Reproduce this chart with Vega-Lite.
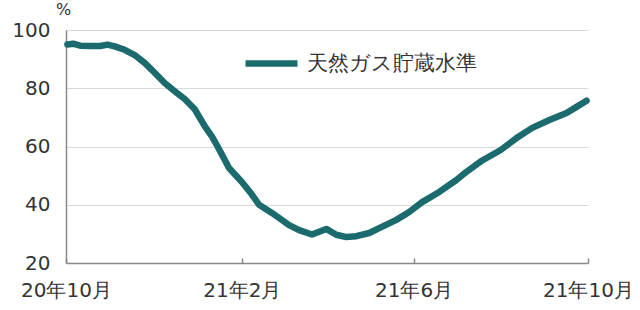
{
  "$schema": "https://vega.github.io/schema/vega-lite/v6.json",
  "width": 522,
  "height": 233,
  "autosize": {"type": "none"},
  "padding": {"left": 66, "top": 30, "right": 52, "bottom": 47},
  "background": "white",
  "config": {"view": {"stroke": null}, "font": "DejaVu Sans"},
  "data": {"values": [
    {"date": "2020-10-02", "value": 95.0},
    {"date": "2020-10-06", "value": 95.3},
    {"date": "2020-10-11", "value": 94.6},
    {"date": "2020-10-18", "value": 94.5},
    {"date": "2020-10-25", "value": 94.5},
    {"date": "2020-10-30", "value": 95.0},
    {"date": "2020-11-04", "value": 94.4},
    {"date": "2020-11-11", "value": 93.2},
    {"date": "2020-11-18", "value": 91.4},
    {"date": "2020-11-25", "value": 88.7},
    {"date": "2020-12-02", "value": 85.3},
    {"date": "2020-12-09", "value": 81.8},
    {"date": "2020-12-16", "value": 79.0},
    {"date": "2020-12-23", "value": 76.3},
    {"date": "2020-12-30", "value": 72.8},
    {"date": "2021-01-06", "value": 67.0},
    {"date": "2021-01-11", "value": 63.5},
    {"date": "2021-01-15", "value": 60.0},
    {"date": "2021-01-23", "value": 52.6},
    {"date": "2021-02-01", "value": 47.8},
    {"date": "2021-02-08", "value": 43.5},
    {"date": "2021-02-13", "value": 40.0},
    {"date": "2021-02-22", "value": 37.2},
    {"date": "2021-03-06", "value": 33.0},
    {"date": "2021-03-13", "value": 31.3},
    {"date": "2021-03-22", "value": 29.8},
    {"date": "2021-04-01", "value": 31.7},
    {"date": "2021-04-08", "value": 29.7},
    {"date": "2021-04-15", "value": 28.9},
    {"date": "2021-04-22", "value": 29.2},
    {"date": "2021-05-01", "value": 30.3},
    {"date": "2021-05-08", "value": 32.0},
    {"date": "2021-05-20", "value": 34.8},
    {"date": "2021-05-29", "value": 37.5},
    {"date": "2021-06-07", "value": 40.9},
    {"date": "2021-06-19", "value": 44.4},
    {"date": "2021-07-01", "value": 48.5},
    {"date": "2021-07-08", "value": 51.3},
    {"date": "2021-07-19", "value": 55.2},
    {"date": "2021-08-01", "value": 58.8},
    {"date": "2021-08-12", "value": 62.9},
    {"date": "2021-08-23", "value": 66.4},
    {"date": "2021-09-04", "value": 69.1},
    {"date": "2021-09-16", "value": 71.5},
    {"date": "2021-09-23", "value": 73.6},
    {"date": "2021-09-30", "value": 75.7}
  ]},
  "mark": {"type": "line", "strokeWidth": 6.5, "strokeCap": "round", "strokeJoin": "round"},
  "encoding": {
    "x": {
      "field": "date",
      "type": "temporal",
      "scale": {"type": "utc", "domain": [{"year": 2020, "month": 10, "date": 1, "utc": true}, {"year": 2021, "month": 10, "date": 1, "utc": true}]},
      "axis": {
        "title": null,
        "values": [
          {"year": 2020, "month": 10, "date": 1, "utc": true},
          {"year": 2021, "month": 2, "date": 1, "utc": true},
          {"year": 2021, "month": 6, "date": 1, "utc": true},
          {"year": 2021, "month": 10, "date": 1, "utc": true}
        ],
        "labelExpr": "utcFormat(datum.value, '%y') + '年' + (utcmonth(datum.value) + 1) + '月'",
        "grid": false,
        "domainColor": "#888888",
        "domainWidth": 1.5,
        "tickColor": "#888888",
        "tickSize": -5,
        "tickWidth": 1.5,
        "labelFontSize": 20,
        "labelColor": "#333333",
        "labelPadding": 22,
        "labelFlush": false,
        "labelOverlap": false
      }
    },
    "y": {
      "field": "value",
      "type": "quantitative",
      "scale": {"domain": [20, 100], "nice": false, "zero": false},
      "axis": {
        "title": "%",
        "titleAngle": 0,
        "titleX": -3,
        "titleY": -13,
        "titleAlign": "center",
        "titleFontSize": 16,
        "titleFontWeight": "normal",
        "titleColor": "#333333",
        "values": [20, 40, 60, 80, 100],
        "grid": true,
        "gridColor": "#d9d9d9",
        "gridWidth": 1.2,
        "ticks": false,
        "domainColor": "#888888",
        "domainWidth": 1.5,
        "labelFontSize": 20,
        "labelColor": "#333333",
        "labelPadding": 16
      }
    },
    "color": {
      "datum": "天然ガス貯蔵水準",
      "type": "nominal",
      "scale": {"range": ["#1b6b6e"]},
      "legend": {
        "title": null,
        "orient": "none",
        "legendX": 176,
        "legendY": 4,
        "symbolType": "stroke",
        "symbolStrokeWidth": 6.5,
        "symbolSize": 2700,
        "labelFontSize": 21,
        "labelLimit": 400,
        "labelColor": "#333333",
        "labelOffset": 6
      }
    }
  }
}
